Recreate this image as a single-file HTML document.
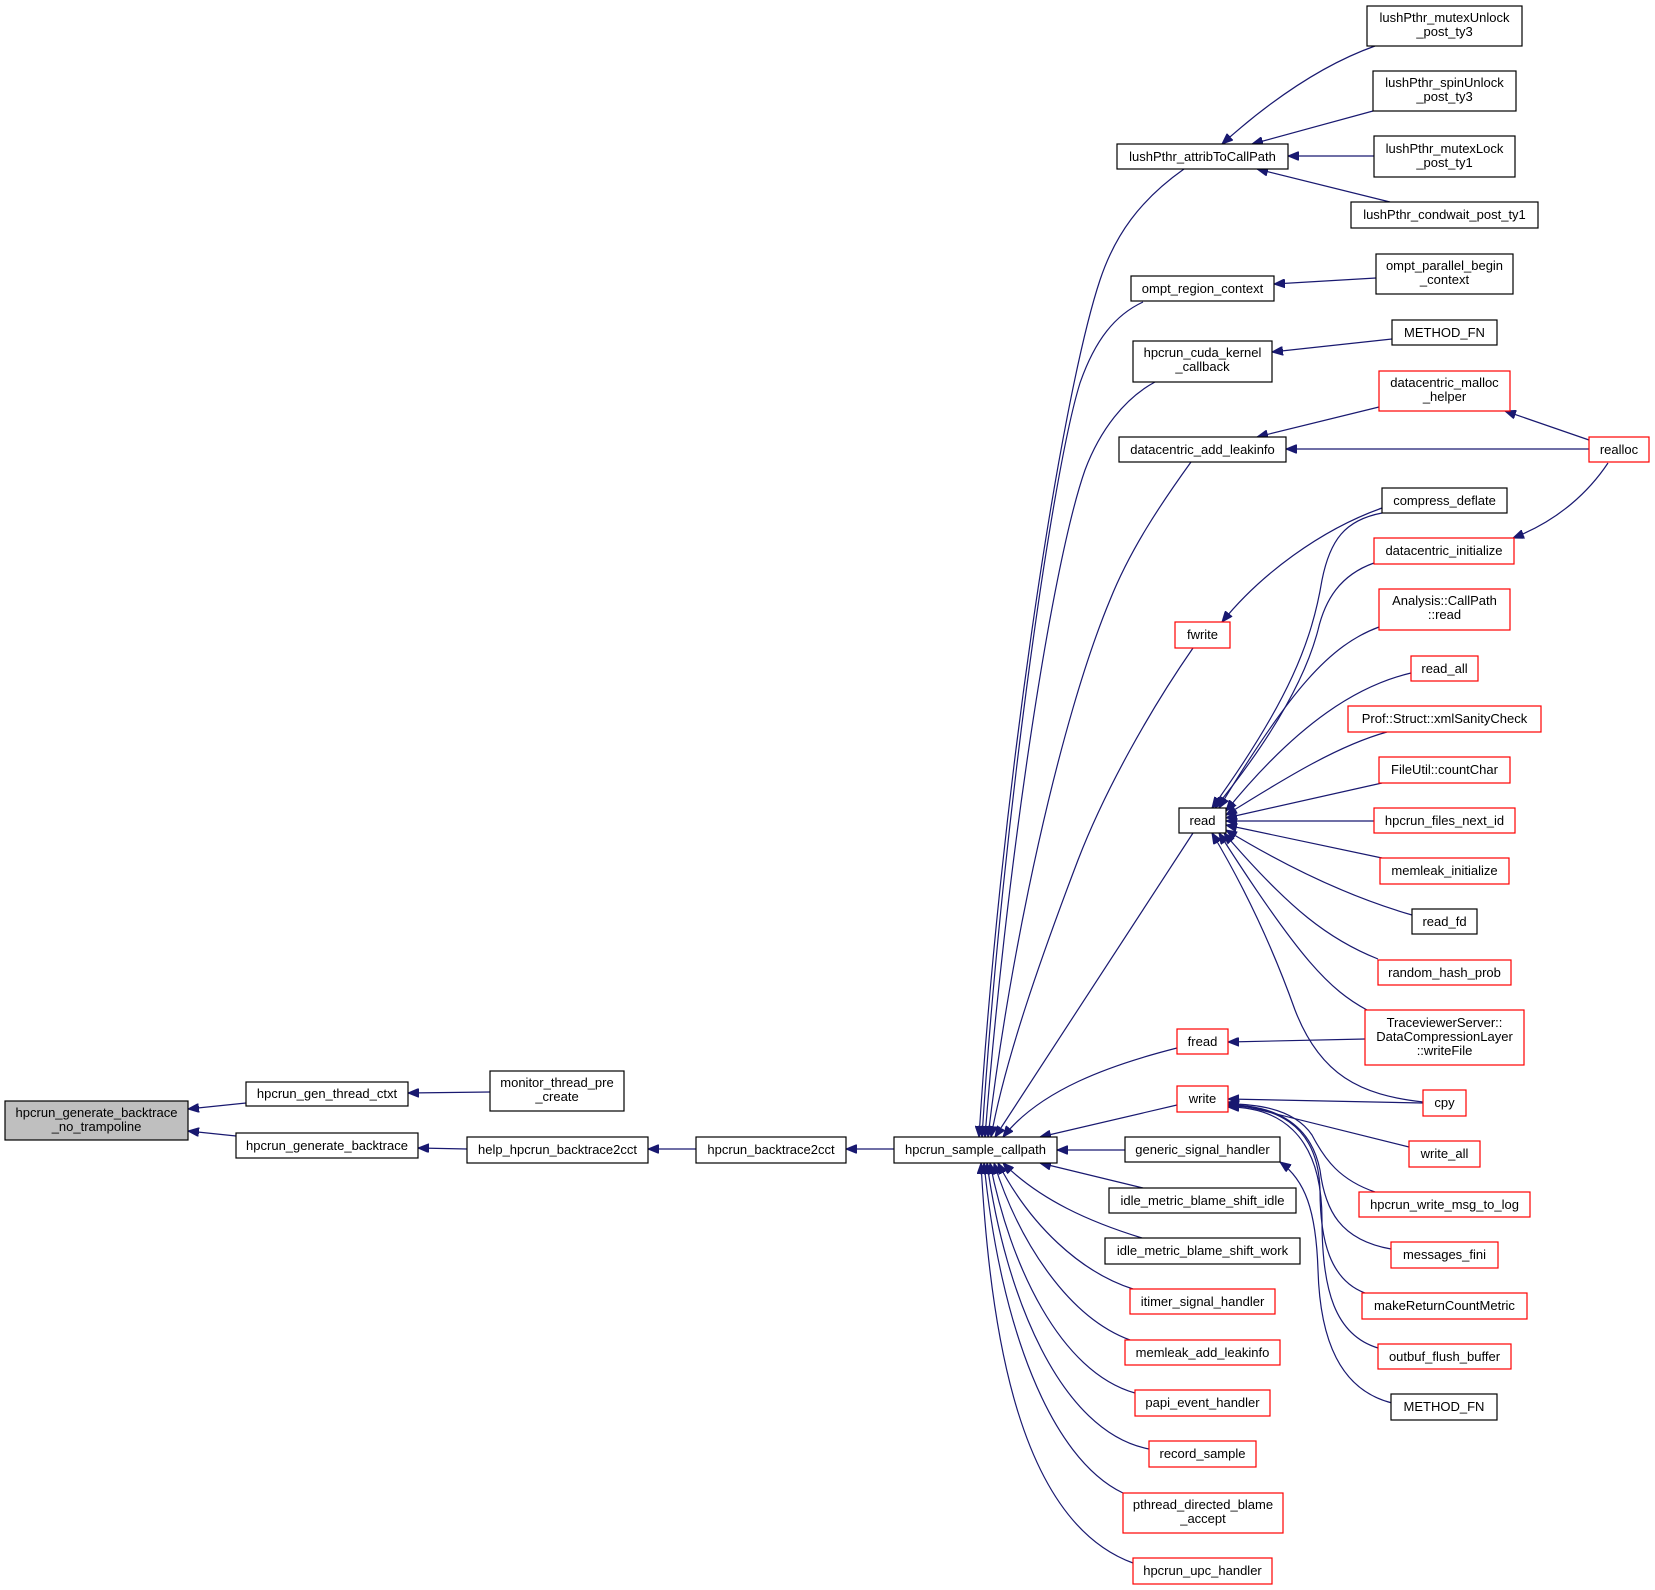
<!DOCTYPE html>
<html><head><meta charset="utf-8"><style>
html,body{margin:0;padding:0;background:#fff;}
svg{display:block;}
text{font-family:"Liberation Sans",Helvetica,Arial,sans-serif;font-size:13px;fill:#000;}
.nb{fill:#fff;stroke:#000;stroke-width:1.2;}
.nr{fill:#fff;stroke:#ff0000;stroke-width:1.2;}
.ng{fill:#bfbfbf;stroke:#000;stroke-width:1.2;}
.e{fill:none;stroke:#191970;stroke-width:1.2;marker-end:url(#a);}
</style></head><body>
<svg width="1655" height="1590" viewBox="0 0 1655 1590" xmlns="http://www.w3.org/2000/svg">
<defs>
<marker id="a" markerWidth="12" markerHeight="9" refX="11" refY="4.5" orient="auto" markerUnits="userSpaceOnUse">
<path d="M0,0 L11,4.5 L0,9 z" fill="#191970" stroke="#191970" stroke-width="1"/>
</marker>
</defs>

<!-- edges left -->
<path class="e" d="M246,1103 L188,1109"/>
<path class="e" d="M236,1136 L188,1131"/>
<path class="e" d="M490,1092 L408,1093"/>
<path class="e" d="M467,1149 L418,1148"/>
<path class="e" d="M696,1149 L648,1149"/>
<path class="e" d="M894,1149 L846,1149"/>

<!-- edges into sample_callpath (top) -->
<path class="e" d="M1184,169 C1140,200 1115,235 1100,280 C1060,400 1000,800 979,1137"/>
<path class="e" d="M1143,302 C1115,315 1095,340 1080,383 C1050,480 1000,850 982,1137"/>
<path class="e" d="M1155,382 C1125,398 1100,430 1085,470 C1050,570 1005,880 985,1137"/>
<path class="e" d="M1191,462 C1160,505 1130,550 1110,600 C1060,720 1010,950 988,1137"/>
<path class="e" d="M1193,648 C1150,710 1105,790 1078,860 C1040,960 1005,1060 991,1137"/>
<path class="e" d="M1193,833 L995,1137"/>
<path class="e" d="M1177,1048 C1110,1065 1040,1090 1003,1137"/>
<path class="e" d="M1177,1105 L1040,1137"/>
<path class="e" d="M1125,1150 L1057,1150"/>
<!-- bottom -->
<path class="e" d="M1143,1188 L1040,1163"/>
<path class="e" d="M1142,1238 C1090,1222 1040,1200 1003,1163"/>
<path class="e" d="M1133,1289 C1080,1272 1030,1225 998,1163"/>
<path class="e" d="M1130,1340 C1070,1318 1020,1245 994,1163"/>
<path class="e" d="M1135,1393 C1060,1372 1010,1265 990,1163"/>
<path class="e" d="M1149,1449 C1060,1432 1005,1295 987,1163"/>
<path class="e" d="M1123,1493 C1050,1458 1000,1325 984,1163"/>
<path class="e" d="M1133,1563 C1020,1522 990,1335 981,1163"/>

<!-- right column to attrib etc -->
<path class="e" d="M1375,46 C1330,62 1280,92 1222,144"/>
<path class="e" d="M1373,111 L1252,144"/>
<path class="e" d="M1374,156 L1288,156"/>
<path class="e" d="M1390,202 L1257,169"/>
<path class="e" d="M1376,278 L1274,284"/>
<path class="e" d="M1392,339 L1272,352"/>
<path class="e" d="M1379,407 L1257,437"/>
<path class="e" d="M1589,449 L1286,449"/>
<path class="e" d="M1589,440 L1505,411"/>
<path class="e" d="M1608,463 C1590,490 1560,520 1513,538"/>

<!-- into fwrite -->
<path class="e" d="M1382,508 C1320,530 1260,575 1222,622"/>

<!-- read fan -->
<path class="e" d="M1382,513 C1345,520 1330,540 1322,580 C1312,640 1290,700 1212,808"/>
<path class="e" d="M1374,563 C1340,575 1325,600 1318,630 C1305,680 1270,740 1215,808"/>
<path class="e" d="M1379,627 C1330,645 1290,690 1219,808"/>
<path class="e" d="M1411,673 C1360,685 1300,720 1226,811"/>
<path class="e" d="M1387,732 C1340,745 1290,775 1226,815"/>
<path class="e" d="M1382,783 L1226,818"/>
<path class="e" d="M1374,821 L1226,821"/>
<path class="e" d="M1382,858 L1226,825"/>
<path class="e" d="M1412,915 C1360,900 1300,875 1226,830"/>
<path class="e" d="M1378,959 C1330,940 1290,910 1224,833"/>
<path class="e" d="M1367,1010 C1330,990 1300,960 1219,833"/>
<path class="e" d="M1423,1102 C1360,1095 1320,1075 1295,1010 C1270,940 1240,880 1212,833"/>

<!-- fread / write -->
<path class="e" d="M1365,1039 L1228,1042"/>
<path class="e" d="M1423,1103 L1228,1099"/>
<path class="e" d="M1409,1147 L1228,1102"/>
<path class="e" d="M1375,1192 C1340,1180 1325,1160 1312,1135 C1295,1110 1260,1104 1228,1104"/>
<path class="e" d="M1391,1249 C1340,1240 1325,1210 1320,1170 C1310,1120 1270,1105 1228,1105"/>
<path class="e" d="M1365,1293 C1330,1280 1320,1240 1320,1190 C1318,1120 1270,1106 1228,1106"/>
<path class="e" d="M1378,1348 C1335,1335 1322,1290 1322,1220 C1322,1130 1275,1107 1228,1107"/>
<path class="e" d="M1392,1403 C1340,1390 1320,1340 1318,1270 C1316,1210 1305,1180 1280,1162"/>

<!-- nodes -->
<rect class="ng" x="5" y="1101" width="183" height="39"/>
<text x="96.5" y="1117" text-anchor="middle">hpcrun_generate_backtrace</text>
<text x="96.5" y="1131" text-anchor="middle">_no_trampoline</text>

<rect class="nb" x="246" y="1082" width="162" height="24"/>
<text x="327" y="1098" text-anchor="middle">hpcrun_gen_thread_ctxt</text>
<rect class="nb" x="236" y="1133" width="182" height="25"/>
<text x="327" y="1150" text-anchor="middle">hpcrun_generate_backtrace</text>
<rect class="nb" x="490" y="1071" width="134" height="40"/>
<text x="557" y="1087" text-anchor="middle">monitor_thread_pre</text>
<text x="557" y="1101" text-anchor="middle">_create</text>
<rect class="nb" x="467" y="1137" width="181" height="26"/>
<text x="557.5" y="1154" text-anchor="middle">help_hpcrun_backtrace2cct</text>
<rect class="nb" x="696" y="1137" width="150" height="26"/>
<text x="771" y="1154" text-anchor="middle">hpcrun_backtrace2cct</text>
<rect class="nb" x="894" y="1137" width="163" height="26"/>
<text x="975.5" y="1154" text-anchor="middle">hpcrun_sample_callpath</text>

<!-- middle column -->
<rect class="nb" x="1117" y="144" width="171" height="25"/>
<text x="1202.5" y="161" text-anchor="middle">lushPthr_attribToCallPath</text>
<rect class="nb" x="1131" y="276" width="143" height="25"/>
<text x="1202.5" y="293" text-anchor="middle">ompt_region_context</text>
<rect class="nb" x="1133" y="341" width="139" height="41"/>
<text x="1202.5" y="357" text-anchor="middle">hpcrun_cuda_kernel</text>
<text x="1202.5" y="371" text-anchor="middle">_callback</text>
<rect class="nb" x="1119" y="437" width="167" height="25"/>
<text x="1202.5" y="454" text-anchor="middle">datacentric_add_leakinfo</text>
<rect class="nr" x="1175" y="622" width="55" height="26"/>
<text x="1202.5" y="639" text-anchor="middle">fwrite</text>
<rect class="nb" x="1179" y="808" width="47" height="25"/>
<text x="1202.5" y="825" text-anchor="middle">read</text>
<rect class="nr" x="1177" y="1029" width="51" height="25"/>
<text x="1202.5" y="1046" text-anchor="middle">fread</text>
<rect class="nr" x="1177" y="1086" width="51" height="26"/>
<text x="1202.5" y="1103" text-anchor="middle">write</text>
<rect class="nb" x="1125" y="1137" width="155" height="25"/>
<text x="1202.5" y="1154" text-anchor="middle">generic_signal_handler</text>
<rect class="nb" x="1109" y="1188" width="187" height="25"/>
<text x="1202.5" y="1205" text-anchor="middle">idle_metric_blame_shift_idle</text>
<rect class="nb" x="1105" y="1238" width="195" height="26"/>
<text x="1202.5" y="1255" text-anchor="middle">idle_metric_blame_shift_work</text>
<rect class="nr" x="1130" y="1289" width="145" height="25"/>
<text x="1202.5" y="1306" text-anchor="middle">itimer_signal_handler</text>
<rect class="nr" x="1125" y="1340" width="155" height="25"/>
<text x="1202.5" y="1357" text-anchor="middle">memleak_add_leakinfo</text>
<rect class="nr" x="1135" y="1390" width="135" height="26"/>
<text x="1202.5" y="1407" text-anchor="middle">papi_event_handler</text>
<rect class="nr" x="1149" y="1441" width="107" height="26"/>
<text x="1202.5" y="1458" text-anchor="middle">record_sample</text>
<rect class="nr" x="1123" y="1493" width="160" height="40"/>
<text x="1203" y="1509" text-anchor="middle">pthread_directed_blame</text>
<text x="1203" y="1523" text-anchor="middle">_accept</text>
<rect class="nr" x="1133" y="1558" width="139" height="26"/>
<text x="1202.5" y="1575" text-anchor="middle">hpcrun_upc_handler</text>

<!-- right column -->
<rect class="nb" x="1367" y="6" width="155" height="40"/>
<text x="1444.5" y="22" text-anchor="middle">lushPthr_mutexUnlock</text>
<text x="1444.5" y="36" text-anchor="middle">_post_ty3</text>
<rect class="nb" x="1373" y="71" width="143" height="40"/>
<text x="1444.5" y="87" text-anchor="middle">lushPthr_spinUnlock</text>
<text x="1444.5" y="101" text-anchor="middle">_post_ty3</text>
<rect class="nb" x="1374" y="136" width="141" height="41"/>
<text x="1444.5" y="153" text-anchor="middle">lushPthr_mutexLock</text>
<text x="1444.5" y="167" text-anchor="middle">_post_ty1</text>
<rect class="nb" x="1351" y="202" width="187" height="26"/>
<text x="1444.5" y="219" text-anchor="middle">lushPthr_condwait_post_ty1</text>
<rect class="nb" x="1376" y="254" width="137" height="40"/>
<text x="1444.5" y="270" text-anchor="middle">ompt_parallel_begin</text>
<text x="1444.5" y="284" text-anchor="middle">_context</text>
<rect class="nb" x="1392" y="320" width="105" height="25"/>
<text x="1444.5" y="337" text-anchor="middle">METHOD_FN</text>
<rect class="nr" x="1379" y="371" width="131" height="40"/>
<text x="1444.5" y="387" text-anchor="middle">datacentric_malloc</text>
<text x="1444.5" y="401" text-anchor="middle">_helper</text>
<rect class="nr" x="1589" y="437" width="60" height="25"/>
<text x="1619" y="454" text-anchor="middle">realloc</text>
<rect class="nb" x="1382" y="488" width="125" height="25"/>
<text x="1444.5" y="505" text-anchor="middle">compress_deflate</text>
<rect class="nr" x="1374" y="538" width="140" height="26"/>
<text x="1444" y="555" text-anchor="middle">datacentric_initialize</text>
<rect class="nr" x="1379" y="589" width="131" height="41"/>
<text x="1444.5" y="605" text-anchor="middle">Analysis::CallPath</text>
<text x="1444.5" y="619" text-anchor="middle">::read</text>
<rect class="nr" x="1411" y="656" width="67" height="25"/>
<text x="1444.5" y="673" text-anchor="middle">read_all</text>
<rect class="nr" x="1348" y="706" width="193" height="26"/>
<text x="1444.5" y="723" text-anchor="middle">Prof::Struct::xmlSanityCheck</text>
<rect class="nr" x="1379" y="757" width="131" height="26"/>
<text x="1444.5" y="774" text-anchor="middle">FileUtil::countChar</text>
<rect class="nr" x="1374" y="808" width="141" height="25"/>
<text x="1444.5" y="825" text-anchor="middle">hpcrun_files_next_id</text>
<rect class="nr" x="1380" y="858" width="129" height="26"/>
<text x="1444.5" y="875" text-anchor="middle">memleak_initialize</text>
<rect class="nb" x="1412" y="909" width="65" height="25"/>
<text x="1444.5" y="926" text-anchor="middle">read_fd</text>
<rect class="nr" x="1378" y="960" width="133" height="25"/>
<text x="1444.5" y="977" text-anchor="middle">random_hash_prob</text>
<rect class="nr" x="1365" y="1010" width="159" height="55"/>
<text x="1444.5" y="1027" text-anchor="middle">TraceviewerServer::</text>
<text x="1444.5" y="1041" text-anchor="middle">DataCompressionLayer</text>
<text x="1444.5" y="1055" text-anchor="middle">::writeFile</text>
<rect class="nr" x="1423" y="1090" width="43" height="26"/>
<text x="1444.5" y="1107" text-anchor="middle">cpy</text>
<rect class="nr" x="1409" y="1141" width="71" height="26"/>
<text x="1444.5" y="1158" text-anchor="middle">write_all</text>
<rect class="nr" x="1359" y="1192" width="171" height="25"/>
<text x="1444.5" y="1209" text-anchor="middle">hpcrun_write_msg_to_log</text>
<rect class="nr" x="1391" y="1242" width="107" height="26"/>
<text x="1444.5" y="1259" text-anchor="middle">messages_fini</text>
<rect class="nr" x="1362" y="1293" width="165" height="26"/>
<text x="1444.5" y="1310" text-anchor="middle">makeReturnCountMetric</text>
<rect class="nr" x="1378" y="1344" width="133" height="25"/>
<text x="1444.5" y="1361" text-anchor="middle">outbuf_flush_buffer</text>
<rect class="nb" x="1391" y="1394" width="106" height="26"/>
<text x="1444" y="1411" text-anchor="middle">METHOD_FN</text>
</svg>
</body></html>
